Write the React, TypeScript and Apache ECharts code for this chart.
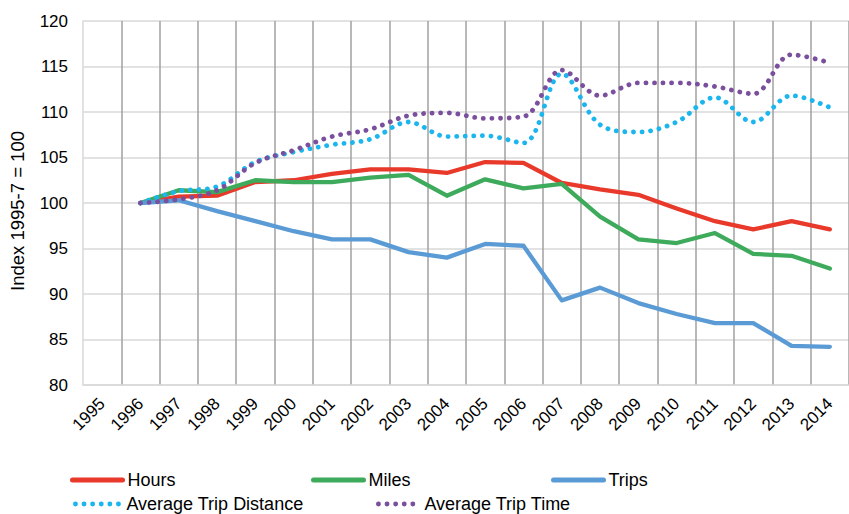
import React, { useEffect, useRef } from "react";
import * as echarts from "echarts";

const years = ["1995","1996","1997","1998","1999","2000","2001","2002","2003","2004","2005","2006","2007","2008","2009","2010","2011","2012","2013","2014"];
const hours = [null, 100, 100.7, 100.8, 102.3, 102.5, 103.2, 103.7, 103.7, 103.3, 104.5, 104.4, 102.2, 101.5, 100.9, 99.4, 98.0, 97.1, 98.0, 97.1];
const miles = [null, 100, 101.4, 101.2, 102.5, 102.3, 102.3, 102.8, 103.1, 100.8, 102.6, 101.6, 102.1, 98.5, 96.0, 95.6, 96.7, 94.4, 94.2, 92.8];
const trips = [null, 100, 100.3, 99.1, 98.0, 96.9, 96.0, 96.0, 94.6, 94.0, 95.5, 95.3, 89.3, 90.7, 89.0, 87.8, 86.8, 86.8, 84.3, 84.2];
const avgDist = [null, 100, 101.3, 101.8, 104.5, 105.6, 106.4, 107.0, 108.9, 107.3, 107.4, 106.6, 114.2, 108.6, 107.8, 108.9, 111.6, 108.9, 111.8, 110.5];
const avgTime = [null, 100, 100.4, 101.4, 104.4, 105.8, 107.3, 108.1, 109.6, 109.9, 109.3, 109.5, 114.6, 111.8, 113.2, 113.2, 112.8, 112.0, 116.3, 115.4];

const yTicks = { min: 80, max: 120, interval: 5 };
const axisName = "Index 1995-7 = 100";

const FONT = "'Liberation Sans', Arial, sans-serif";

const COLORS = {
  hours: "#E8392B",
  miles: "#3DAA5C",
  trips: "#5B9BD5",
  dist: "#1CB6EF",
  time: "#7A4F9E",
};

const DOT: number[] = [0.1, 8.5];

function solid(name: string, data: (number | null)[], color: string) {
  return {
    name,
    type: "line",
    data,
    symbol: "none",
    showSymbol: false,
    lineStyle: { color, width: 4.3, cap: "round", join: "round" },
    itemStyle: { color },
  };
}

function dotted(name: string, data: (number | null)[], color: string) {
  return {
    name,
    type: "line",
    data,
    smooth: 0.35,
    symbol: "none",
    showSymbol: false,
    lineStyle: { color, width: 4.8, type: DOT, cap: "round" },
    itemStyle: { color },
  };
}

function legendAt(name: string, left: number, top: number, isDotted: boolean, w: number) {
  return {
    data: [name],
    left,
    top,
    padding: 0,
    itemGap: 0,
    itemWidth: w,
    itemHeight: 18,
    itemStyle: { opacity: 0 },
    lineStyle: isDotted
      ? { width: 4.8, type: DOT, cap: "round" }
      : { width: 5, cap: "round" },
    textStyle: { fontSize: 18, color: "#000", fontFamily: FONT },
  };
}

export default function App() {
  const ref = useRef<HTMLDivElement>(null);
  useEffect(() => {
    if (!ref.current) return;
    const chart = echarts.init(ref.current, null, { renderer: "svg" });
    chart.setOption({
      animation: false,
      backgroundColor: "#fff",
      textStyle: { fontFamily: FONT },
      grid: { left: 82, right: -6, top: 21, bottom: 129, containLabel: false },
      legend: [
        legendAt("Hours", 70, 471, false, 50),
        legendAt("Miles", 311, 471, false, 50),
        legendAt("Trips", 551, 471, false, 50),
        legendAt("Average Trip Distance", 73, 495, true, 46),
        legendAt("Average Trip Time", 376, 495, true, 41),
      ],
      xAxis: {
        type: "category",
        data: years,
        boundaryGap: true,
        axisLine: { show: true, lineStyle: { color: "#D9D9D9", width: 1.5 } },
        axisTick: { show: false },
        axisLabel: {
          interval: 0,
          rotate: 45,
          fontSize: 17,
          color: "#000",
          margin: 16,
          fontFamily: FONT,
        },
        splitLine: {
          show: true,
          interval: (idx: number) => idx !== 0,
          lineStyle: { color: "#A0A0A0", width: 1.5 },
        },
      },
      yAxis: {
        type: "value",
        min: yTicks.min,
        max: yTicks.max,
        interval: yTicks.interval,
        name: axisName,
        nameLocation: "middle",
        nameRotate: 90,
        nameGap: 56,
        nameTextStyle: {
          fontSize: 18.5,
          color: "#000",
          fontFamily: FONT,
          padding: [0, 16, 0, 0],
        },
        axisLine: { show: true, lineStyle: { color: "#D9D9D9", width: 1.5 } },
        axisTick: { show: false },
        axisLabel: { fontSize: 17, color: "#000", margin: 15, fontFamily: FONT },
        splitLine: { show: true, lineStyle: { color: "#D9D9D9", width: 1.5 } },
      },
      series: [
        solid("Hours", hours, COLORS.hours),
        solid("Miles", miles, COLORS.miles),
        solid("Trips", trips, COLORS.trips),
        dotted("Average Trip Distance", avgDist, COLORS.dist),
        dotted("Average Trip Time", avgTime, COLORS.time),
      ],
    });
    return () => chart.dispose();
  }, []);
  return (
    <div
      ref={ref}
      style={{ position: "absolute", left: 0, top: 0, width: 849, height: 514 }}
    />
  );
}
